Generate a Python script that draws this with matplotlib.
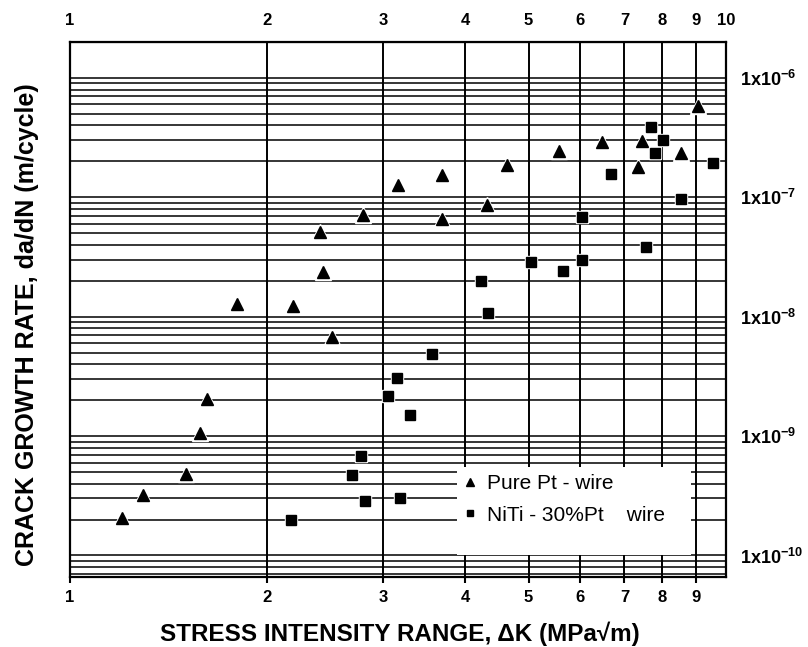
import numpy as np
import matplotlib as mpl
import matplotlib.pyplot as plt
from matplotlib.lines import Line2D
from matplotlib.patches import Rectangle
from matplotlib.ticker import LogLocator, NullLocator, NullFormatter

mpl.rcParams['font.family'] = ['Liberation Sans', 'DejaVu Sans']
mpl.rcParams['mathtext.fontset'] = 'custom'
mpl.rcParams['mathtext.rm'] = 'Liberation Sans'
mpl.rcParams['mathtext.bf'] = 'Liberation Sans:bold'

# Pure Pt wire (triangles)
pt_dk = [1.20, 1.29, 1.50, 1.58, 1.62, 1.80, 2.19, 2.43, 2.405, 2.51, 2.80,
         3.16, 3.69, 3.69, 4.32, 4.64, 5.56, 6.47, 7.34, 7.45, 8.54, 9.06]
pt_rate = [2.07e-10, 3.23e-10, 4.8e-10, 1.06e-9, 2.04e-9, 1.28e-8, 1.24e-8,
           2.37e-8, 5.1e-8, 6.7e-9, 7.08e-8, 1.28e-7, 1.53e-7, 6.6e-8,
           8.7e-8, 1.88e-7, 2.42e-7, 2.93e-7, 1.81e-7, 2.98e-7, 2.37e-7, 5.8e-7]

# NiTi-30%Pt wire (squares)
niti_dk = [2.17, 2.69, 2.78, 2.82, 3.05, 3.15, 3.18, 3.30, 3.56, 4.23, 4.34,
           5.04, 5.64, 6.03, 6.03, 6.68, 7.55, 7.69, 7.79, 8.02, 8.54, 9.55]
niti_rate = [2.0e-10, 4.7e-10, 6.8e-10, 2.88e-10, 2.16e-9, 3.04e-9, 3.04e-10,
             1.5e-9, 4.9e-9, 2.0e-8, 1.08e-8, 2.87e-8, 2.42e-8, 2.99e-8,
             6.8e-8, 1.58e-7, 3.83e-8, 3.9e-7, 2.37e-7, 3.04e-7, 9.6e-8, 1.92e-7]

x_ticks = [1, 2, 3, 4, 5, 6, 7, 8, 9]
x_top_ticks = [1, 2, 3, 4, 5, 6, 7, 8, 9, 10]
y_ticks = [1e-10, 1e-9, 1e-8, 1e-7, 1e-6]
y_labels = [r'$\mathbf{1x10^{-10}}$', r'$\mathbf{1x10^{-9}}$', r'$\mathbf{1x10^{-8}}$',
            r'$\mathbf{1x10^{-7}}$', r'$\mathbf{1x10^{-6}}$']

fig = plt.figure(figsize=(8.08, 6.47), dpi=100)
ax = fig.add_axes([70 / 808, 70 / 647, 656 / 808, 535 / 647])

ax.set_xscale('log')
ax.set_yscale('log')
ax.set_xlim(1, 10)
ax.set_ylim(6.6e-11, 2e-6)

ax.set_xticks(x_ticks)
ax.set_xticklabels([str(v) for v in x_ticks], fontsize=12, fontweight='bold')
ax.xaxis.set_minor_locator(NullLocator())
ax.tick_params(axis='x', which='major', direction='out', length=4, width=1.5, pad=5)

ax.yaxis.tick_right()
ax.set_yticks(y_ticks)
ax.set_yticklabels(y_labels, fontsize=13)
ax.yaxis.set_minor_locator(LogLocator(base=10, subs=np.arange(2, 10), numticks=20))
ax.yaxis.set_minor_formatter(NullFormatter())
ax.tick_params(axis='y', which='both', length=0, pad=10)

ax.grid(True, axis='x', which='major', color='black', linewidth=1.4)
ax.grid(True, axis='y', which='both', color='black', linewidth=1.1)
for sp in ax.spines.values():
    sp.set_linewidth(1.6)

top = ax.secondary_xaxis('top')
top.set_xticks(x_top_ticks)
top.set_xticklabels([str(v) for v in x_top_ticks], fontsize=12, fontweight='bold')
top.xaxis.set_minor_locator(NullLocator())
top.tick_params(axis='x', which='both', length=0, pad=10)

# white halo under markers, then black markers
ax.plot(pt_dk, pt_rate, linestyle='none', marker='^', markersize=11,
        color='white', zorder=4)
ax.plot(niti_dk, niti_rate, linestyle='none', marker='s', markersize=9,
        color='white', zorder=4)
ax.plot(pt_dk, pt_rate, linestyle='none', marker='^', markersize=8.5,
        color='black', zorder=5)
ax.plot(niti_dk, niti_rate, linestyle='none', marker='s', markersize=6.5,
        color='black', zorder=5)

# legend box
box = Rectangle((0.590, 0.042), 0.357, 0.164, transform=ax.transAxes,
                facecolor='white', edgecolor='none', zorder=3)
ax.add_patch(box)
handles = [Line2D([], [], linestyle='none', marker='^', markersize=6, color='black'),
           Line2D([], [], linestyle='none', marker='s', markersize=5, color='black')]
leg = ax.legend(handles, ['Pure Pt - wire', 'NiTi - 30%Pt    wire'],
                loc='upper left', bbox_to_anchor=(0.598, 0.192), frameon=False,
                fontsize=15, handlelength=0.7, handletextpad=0.5,
                labelspacing=0.6, borderpad=0, borderaxespad=0)
leg.set_zorder(6)

ax.set_xlabel('STRESS INTENSITY RANGE, \u0394K (MPa\u221am)', fontsize=17.5,
              fontweight='bold')
ax.xaxis.set_label_coords(0.503, -0.083)
fig.text(27 / 808, 1 - 325 / 647, 'CRACK GROWTH RATE, da/dN (m/cycle)',
         rotation=90, fontsize=18, fontweight='bold', ha='center', va='center')

fig.savefig('out.png', dpi=100)
